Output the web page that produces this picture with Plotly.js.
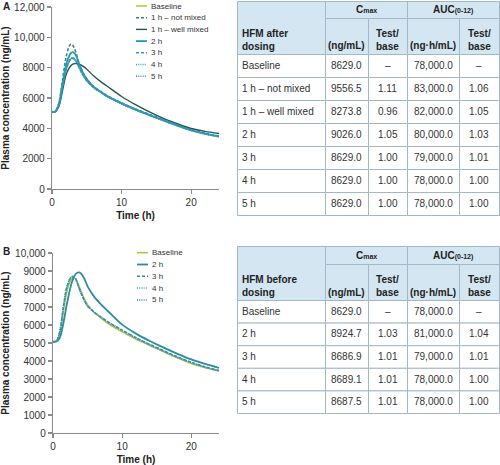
<!DOCTYPE html>
<html><head><meta charset="utf-8">
<script src="https://cdn.plot.ly/plotly-3.0.1.min.js"></script>
<style>html,body{margin:0;padding:0;background:#fff}#chart{width:500px;height:465px}</style>
</head><body><div id="chart"></div>
<script>
// ---------- data ----------
const time = [0,0.5,1,1.5,2,2.5,2.75,3,3.25,3.5,3.75,4,4.5,5,6,7,8,10,12,14,16,18,20,22,24];

// Panel A: HFM after dosing
const aBaseline   = [5070,5110,5550,6750,7850,8450,8590,8629,8560,8400,8170,7930,7480,7130,6680,6370,6080,5620,5220,4860,4510,4170,3860,3630,3450];
const aNotMixed   = [5070,5130,5700,7150,8650,9450,9556,9470,9250,8900,8500,8150,7620,7250,6750,6430,6130,5680,5280,4920,4570,4230,3920,3680,3490];
const aWellMixed  = [5070,5100,5450,6450,7500,8000,8150,8230,8265,8274,8255,8210,8080,7900,7450,7080,6760,6100,5560,5080,4660,4300,3990,3800,3660];
const a2h         = [5070,5120,5620,6900,8150,8800,8970,9026,8950,8750,8450,8150,7620,7250,6730,6410,6110,5650,5250,4890,4540,4200,3890,3650,3470];
const a3h         = [5070,5110,5560,6760,7860,8460,8600,8629,8565,8410,8180,7950,7500,7150,6700,6400,6110,5650,5250,4890,4540,4200,3890,3650,3470];
const a4h         = [5070,5110,5550,6750,7850,8450,8590,8629,8560,8400,8170,7930,7480,7130,6680,6370,6080,5620,5220,4860,4510,4170,3860,3630,3450];
const a5h         = [5070,5110,5550,6750,7850,8450,8590,8629,8560,8400,8170,7930,7480,7130,6680,6370,6080,5620,5220,4860,4510,4170,3860,3630,3450];

// Panel B: HFM before dosing
const bBaseline   = [5070,5110,5550,6750,7850,8450,8590,8629,8560,8400,8170,7930,7480,7130,6680,6370,6080,5620,5220,4860,4510,4170,3860,3630,3450];
const b2h         = [5070,5080,5300,6100,7150,8050,8400,8650,8820,8900,8925,8880,8600,8150,7550,7120,6750,6020,5520,5110,4740,4400,4090,3840,3620];
const b3h         = [5070,5110,5650,7000,8100,8600,8680,8687,8580,8360,8080,7820,7380,7060,6700,6430,6160,5720,5300,4920,4570,4230,3930,3680,3470];
const b4h         = [5070,5110,5650,7000,8100,8600,8685,8689,8575,8350,8070,7810,7370,7050,6690,6420,6150,5700,5280,4900,4550,4210,3910,3660,3450];
const b5h         = [5070,5110,5650,7000,8100,8600,8684,8688,8575,8350,8070,7810,7370,7050,6690,6420,6150,5700,5280,4900,4550,4210,3910,3660,3450];

// tick labels
const aTickVals = [0,2000,4000,6000,8000,10000,12000];
const aTickText = ["0","2000","4000","6000","8000","10,000","12,000"];
const bTickVals = [0,1000,2000,3000,4000,5000,6000,7000,8000,9000,10000];
const bTickText = ["0","1000","2000","3000","4000","5000","6000","7000","8000","9000","10,000"];
const xTickVals = [0,10,20];

// table headers
const hdrTop  = ["C<span style='font-size:7px'>max</span>", "AUC<span style='font-size:7px'>(0-12)</span>"];
const hdrSub  = ["(ng/mL)", "Test/<br>base", "(ng\u00b7h/mL)", "Test/<br>base"];
// table A
const aHeader    = "HFM after<br>dosing";
const aRowLabels = ["Baseline","1 h \u2013 not mixed","1 h \u2013 well mixed","2 h","3 h","4 h","5 h"];
const aCmax      = ["8629.0","9556.5","8273.8","9026.0","8629.0","8629.0","8629.0"];
const aCmaxRatio = ["\u2013","1.11","0.96","1.05","1.00","1.00","1.00"];
const aAuc       = ["78,000.0","83,000.0","82,000.0","80,000.0","79,000.0","78,000.0","78,000.0"];
const aAucRatio  = ["\u2013","1.06","1.05","1.03","1.01","1.00","1.00"];
// table B
const bHeader    = "HFM before<br>dosing";
const bRowLabels = ["Baseline","2 h","3 h","4 h","5 h"];
const bCmax      = ["8629.0","8924.7","8686.9","8689.1","8687.5"];
const bCmaxRatio = ["\u2013","1.03","1.01","1.01","1.01"];
const bAuc       = ["78,000.0","81,000.0","79,000.0","78,000.0","78,000.0"];
const bAucRatio  = ["\u2013","1.04","1.01","1.00","1.00"];

// ---------- styling ----------
const W = 500, H = 465;
const px = x => x / W;
const py = y => 1 - y / H;
const FONT = "Liberation Sans, Arial, Helvetica, sans-serif";
const C = {
  baseline: "#b3c23a", notMixed: "#3f7f74", wellMixed: "#1f5a52",
  h2: "#1d9db6", h3: "#3a95a8", h4: "#2aa5cc", h5: "#3a8cc2",
  bh2: "#2a8c9e", bh3: "#3a85a2"
};
const DASH = "3px,2px", DOT = "1px,1.2px";

const seriesA = [
  {name:"Baseline", y:aBaseline, color:C.baseline, dash:"solid", w:1.5},
  {name:"1 h \u2013 not mixed", y:aNotMixed, color:C.notMixed, dash:DASH, w:1.6},
  {name:"1 h \u2013 well mixed", y:aWellMixed, color:C.wellMixed, dash:"solid", w:1.4},
  {name:"2 h", y:a2h, color:C.h2, dash:"solid", w:1.8},
  {name:"3 h", y:a3h, color:C.h3, dash:DASH, w:1.6},
  {name:"4 h", y:a4h, color:C.h4, dash:DOT, w:1.6},
  {name:"5 h", y:a5h, color:C.h5, dash:DOT, w:1.6}
];
const seriesB = [
  {name:"Baseline", y:bBaseline, color:C.baseline, dash:"solid", w:1.5},
  {name:"2 h", y:b2h, color:C.bh2, dash:"solid", w:1.8},
  {name:"3 h", y:b3h, color:C.bh3, dash:DASH, w:1.5},
  {name:"4 h", y:b4h, color:C.h4, dash:DOT, w:1.5},
  {name:"5 h", y:b5h, color:C.h5, dash:DOT, w:1.5}
];

const traces = [];
seriesA.forEach(s => traces.push({type:"scatter", mode:"lines", x:time, y:s.y, name:s.name,
  xaxis:"x", yaxis:"y", showlegend:false, line:{color:s.color, width:s.w, dash:s.dash, shape:"spline", smoothing:0.8}}));
seriesB.forEach(s => traces.push({type:"scatter", mode:"lines", x:time, y:s.y, name:s.name,
  xaxis:"x2", yaxis:"y2", showlegend:false, line:{color:s.color, width:s.w, dash:s.dash, shape:"spline", smoothing:0.8}}));

const shapes = [], annotations = [];

// ---------- tables (cells as shapes, text as annotations) ----------
const HDR_FILL = "#d3e6f1", BORDER = "#a3b8c6", TXT = "#333333", HTXT = "#222222";
const colX = [237, 325, 368, 407, 459, 499];
function cell(x0, y0, x1, y1, fill) {
  shapes.push({type:"rect", xref:"paper", yref:"paper", layer:"above",
    x0:px(x0 + 0.5), x1:px(x1 + 0.5), y0:py(y1 + 0.5), y1:py(y0 + 0.5),
    fillcolor:fill, line:{color:BORDER, width:1}});
}
function txt(x, y, text, anchor, bold) {
  annotations.push({xref:"paper", yref:"paper", x:px(x), y:py(y), xanchor:anchor, yanchor:"middle",
    text: bold ? "<b>" + text + "</b>" : text, showarrow:false, align:anchor === "left" ? "left" : "center",
    font:{family:FONT, size:10, color: bold ? HTXT : TXT}});
}
function drawTable(top, r1, r2, rowH, header, labels, cols) {
  // header cells
  cell(colX[0], top, colX[1], r2, HDR_FILL);
  cell(colX[1], top, colX[3], r1, HDR_FILL);
  cell(colX[3], top, colX[5], r1, HDR_FILL);
  for (let c = 1; c < 5; c++) cell(colX[c], r1, colX[c + 1], r2, HDR_FILL);
  txt(colX[0] + 3, (r1 + r2) / 2 + 3.5, header, "left", true);
  txt((colX[1] + colX[3]) / 2, (top + r1) / 2 + 0.5, hdrTop[0], "center", true);
  txt((colX[3] + colX[5]) / 2, (top + r1) / 2 + 0.5, hdrTop[1], "center", true);
  hdrSub.forEach((h, c) => {
    const twoLine = h.indexOf("<br>") >= 0;
    txt((colX[c + 1] + colX[c + 2]) / 2, twoLine ? r2 - 14.5 : r2 - 8, h, "center", true);
  });
  // body cells
  labels.forEach((lab, i) => {
    const y0 = r2 + i * rowH, y1 = y0 + rowH, ym = (y0 + y1) / 2;
    for (let c = 0; c < 5; c++) cell(colX[c], y0, colX[c + 1], y1, "#ffffff");
    txt(colX[0] + 3, ym, lab, "left", false);
    cols.forEach((col, c) => txt((colX[c + 1] + colX[c + 2]) / 2, ym, col[i], "center", false));
  });
}
drawTable(1, 18, 54, 23, aHeader, aRowLabels, [aCmax, aCmaxRatio, aAuc, aAucRatio]);
drawTable(246, 264, 300, 22.6, bHeader, bRowLabels, [bCmax, bCmaxRatio, bAuc, bAucRatio]);

// ---------- manual legends ----------
function legend(series, y0, step, x0) {
  series.forEach((s, i) => {
    const y = y0 + i * step;
    shapes.push({type:"line", xref:"paper", yref:"paper", x0:px(x0), x1:px(x0 + 11), y0:py(y), y1:py(y),
      line:{color:s.color, width:s.w, dash:s.dash}});
    annotations.push({xref:"paper", yref:"paper", x:px(x0 + 13), y:py(y), xanchor:"left", yanchor:"middle",
      text:s.name, showarrow:false, font:{family:FONT, size:8, color:"#333"}});
  });
}
legend(seriesA, 6, 11.7, 136);
legend(seriesB, 252.7, 11.8, 137);

annotations.push({xref:"paper", yref:"paper", x:px(1), y:py(7), xanchor:"left", yanchor:"middle",
  text:"<b>A</b>", showarrow:false, font:{family:FONT, size:10, color:"#222"}});
annotations.push({xref:"paper", yref:"paper", x:px(1), y:py(251), xanchor:"left", yanchor:"middle",
  text:"<b>B</b>", showarrow:false, font:{family:FONT, size:10, color:"#222"}});

const axBase = {showline:true, linecolor:"#8a8a8a", linewidth:1.3, ticks:"outside", ticklen:4,
  tickcolor:"#8a8a8a", tickwidth:1.2, showgrid:false, zeroline:false,
  tickfont:{family:FONT, size:10, color:"#333"}};
const xTitle = {text:"<b>Time (h)</b>", font:{family:FONT, size:10, color:"#222"}, standoff:4};
const yTitle = {text:"<b>Plasma concentration (ng/mL)</b>", font:{family:FONT, size:10, color:"#222"}, standoff:6};

const layout = {
  width:W, height:H, margin:{l:0, r:0, t:0, b:0}, paper_bgcolor:"#fff", plot_bgcolor:"#fff",
  showlegend:false, font:{family:FONT},
  xaxis:Object.assign({}, axBase, {domain:[px(52), px(219)], range:[0,24], tickvals:xTickVals, anchor:"y", title:xTitle}),
  yaxis:Object.assign({}, axBase, {domain:[py(189), py(7)], range:[0,12000], tickvals:aTickVals, ticktext:aTickText, anchor:"x", title:yTitle}),
  xaxis2:Object.assign({}, axBase, {domain:[px(53), px(219)], range:[0,24], tickvals:xTickVals, anchor:"y2", title:xTitle}),
  yaxis2:Object.assign({}, axBase, {domain:[py(433), py(253)], range:[0,10000], tickvals:bTickVals, ticktext:bTickText, anchor:"x2", title:yTitle}),
  shapes:shapes, annotations:annotations
};
Plotly.newPlot("chart", traces, layout, {staticPlot:true, displayModeBar:false});
</script></body></html>
